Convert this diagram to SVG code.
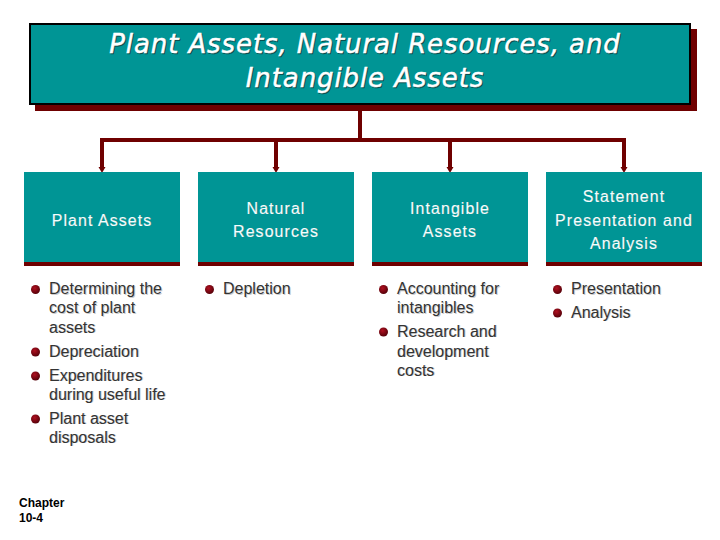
<svg xmlns="http://www.w3.org/2000/svg" width="720" height="540" viewBox="0 0 720 540">
<style>
.teal{fill:#009595}
.mar{fill:#6f0000}
.title{font:italic 26px "DejaVu Sans",sans-serif;fill:#fff;stroke:#fff;stroke-width:.5px;text-anchor:middle;letter-spacing:.9px}
.ts{font:italic 26px "DejaVu Sans",sans-serif;fill:#0a4a4a;stroke:#0a4a4a;stroke-width:.5px;text-anchor:middle;letter-spacing:.9px}
.h{font:16px "Liberation Sans",Arial,sans-serif;fill:#f2ffff;stroke:#f2ffff;stroke-width:.2px;text-anchor:middle;letter-spacing:1.05px}
.hs{font:16px "Liberation Sans",Arial,sans-serif;fill:#0a5a5a;text-anchor:middle;letter-spacing:1.05px}
.b{font:16px "Liberation Sans",Arial,sans-serif;fill:#333}
.bs{font:16px "Liberation Sans",Arial,sans-serif;fill:#ccc}
.c{font:bold 12px "Liberation Sans",Arial,sans-serif;fill:#000}
.conn{fill:none;stroke:#6f0000;stroke-width:4}
.head{fill:#6f0000}
</style>
<defs>
<radialGradient id="dot" cx=".4" cy=".35" r=".7"><stop offset="0" stop-color="#b01020"/><stop offset="1" stop-color="#500008"/></radialGradient>
<ellipse id="bullet" rx="4.500" ry="4.500" fill="url(#dot)"/>
<path id="ah" class="head" d="M-3.500 -5H3.500L0 1Z"/>
</defs>
<g id="connectors">
<path class="conn" d="M360 106V140"/>
<path class="conn" d="M100 140H626"/>
<path class="conn" d="M102 140V168"/>
<path class="conn" d="M276 140V168"/>
<path class="conn" d="M450 140V168"/>
<path class="conn" d="M624 140V168"/>
<use href="#ah" x="102" y="172"/>
<use href="#ah" x="276" y="172"/>
<use href="#ah" x="450" y="172"/>
<use href="#ah" x="624" y="172"/>
</g>
<g id="title">
<rect class="mar" x="35" y="29" width="662" height="82"/>
<rect class="teal" x="30" y="24" width="660" height="80" stroke="#000" stroke-width="2"/>
<text class="ts" x="366" y="54">Plant Assets, Natural Resources, and</text>
<text class="ts" x="366" y="88">Intangible Assets</text>
<text class="title" x="365" y="53">Plant Assets, Natural Resources, and</text>
<text class="title" x="365" y="87">Intangible Assets</text>
</g>
<g id="plant-assets">
<rect class="teal" x="24" y="172" width="156" height="92"/><rect class="mar" x="24" y="262" width="156" height="4"/>
<text class="hs" x="102.500" y="226">Plant Assets</text><text class="h" x="102" y="225.500">Plant Assets</text>
</g>
<g id="natural-resources">
<rect class="teal" x="198" y="172" width="156" height="92"/><rect class="mar" x="198" y="262" width="156" height="4"/>
<text class="hs" x="276.500" y="214">Natural</text><text class="h" x="276" y="213.500">Natural</text>
<text class="hs" x="276.500" y="237">Resources</text><text class="h" x="276" y="236.500">Resources</text>
</g>
<g id="intangible-assets">
<rect class="teal" x="372" y="172" width="156" height="92"/><rect class="mar" x="372" y="262" width="156" height="4"/>
<text class="hs" x="450.500" y="214">Intangible</text><text class="h" x="450" y="213.500">Intangible</text>
<text class="hs" x="450.500" y="237">Assets</text><text class="h" x="450" y="236.500">Assets</text>
</g>
<g id="statement">
<rect class="teal" x="546" y="172" width="156" height="92"/><rect class="mar" x="546" y="262" width="156" height="4"/>
<text class="hs" x="624.500" y="202">Statement</text><text class="h" x="624" y="201.500">Statement</text>
<text class="hs" x="624.500" y="226">Presentation and</text><text class="h" x="624" y="225.500">Presentation and</text>
<text class="hs" x="624.500" y="249">Analysis</text><text class="h" x="624" y="248.500">Analysis</text>
</g>
<g id="list-plant">
<use href="#bullet" x="35.500" y="289.500"/><use href="#bullet" x="35.500" y="352"/><use href="#bullet" x="35.500" y="376"/><use href="#bullet" x="35.500" y="419"/>
<text class="bs" x="50" y="295">Determining the</text><text class="b" x="49" y="294">Determining the</text>
<text class="bs" x="50" y="314">cost of plant</text><text class="b" x="49" y="313">cost of plant</text>
<text class="bs" x="50" y="333">assets</text><text class="b" x="49" y="332.500">assets</text>
<text class="bs" x="50" y="357">Depreciation</text><text class="b" x="49" y="356.500">Depreciation</text>
<text class="bs" x="50" y="381">Expenditures</text><text class="b" x="49" y="380.500">Expenditures</text>
<text class="bs" x="50" y="400">during useful life</text><text class="b" x="49" y="399.500">during useful life</text>
<text class="bs" x="50" y="424">Plant asset</text><text class="b" x="49" y="423.500">Plant asset</text>
<text class="bs" x="50" y="443">disposals</text><text class="b" x="49" y="442.500">disposals</text>
</g>
<g id="list-natural">
<use href="#bullet" x="209.500" y="289.500"/>
<text class="bs" x="224" y="294.500">Depletion</text><text class="b" x="223" y="294">Depletion</text>
</g>
<g id="list-intangible">
<use href="#bullet" x="383.500" y="289.500"/><use href="#bullet" x="383.500" y="332"/>
<text class="bs" x="398" y="294.500">Accounting for</text><text class="b" x="397" y="294">Accounting for</text>
<text class="bs" x="398" y="313.500">intangibles</text><text class="b" x="397" y="313">intangibles</text>
<text class="bs" x="398" y="337">Research and</text><text class="b" x="397" y="336.500">Research and</text>
<text class="bs" x="398" y="357">development</text><text class="b" x="397" y="356.500">development</text>
<text class="bs" x="398" y="376">costs</text><text class="b" x="397" y="375.500">costs</text>
</g>
<g id="list-statement">
<use href="#bullet" x="557.500" y="289.500"/><use href="#bullet" x="557.500" y="313"/>
<text class="bs" x="572" y="294.500">Presentation</text><text class="b" x="571" y="294">Presentation</text>
<text class="bs" x="572" y="318">Analysis</text><text class="b" x="571" y="317.500">Analysis</text>
</g>
<g id="chapter">
<text class="c" x="19" y="507">Chapter</text>
<text class="c" x="19" y="522">10-4</text>
</g>
</svg>
